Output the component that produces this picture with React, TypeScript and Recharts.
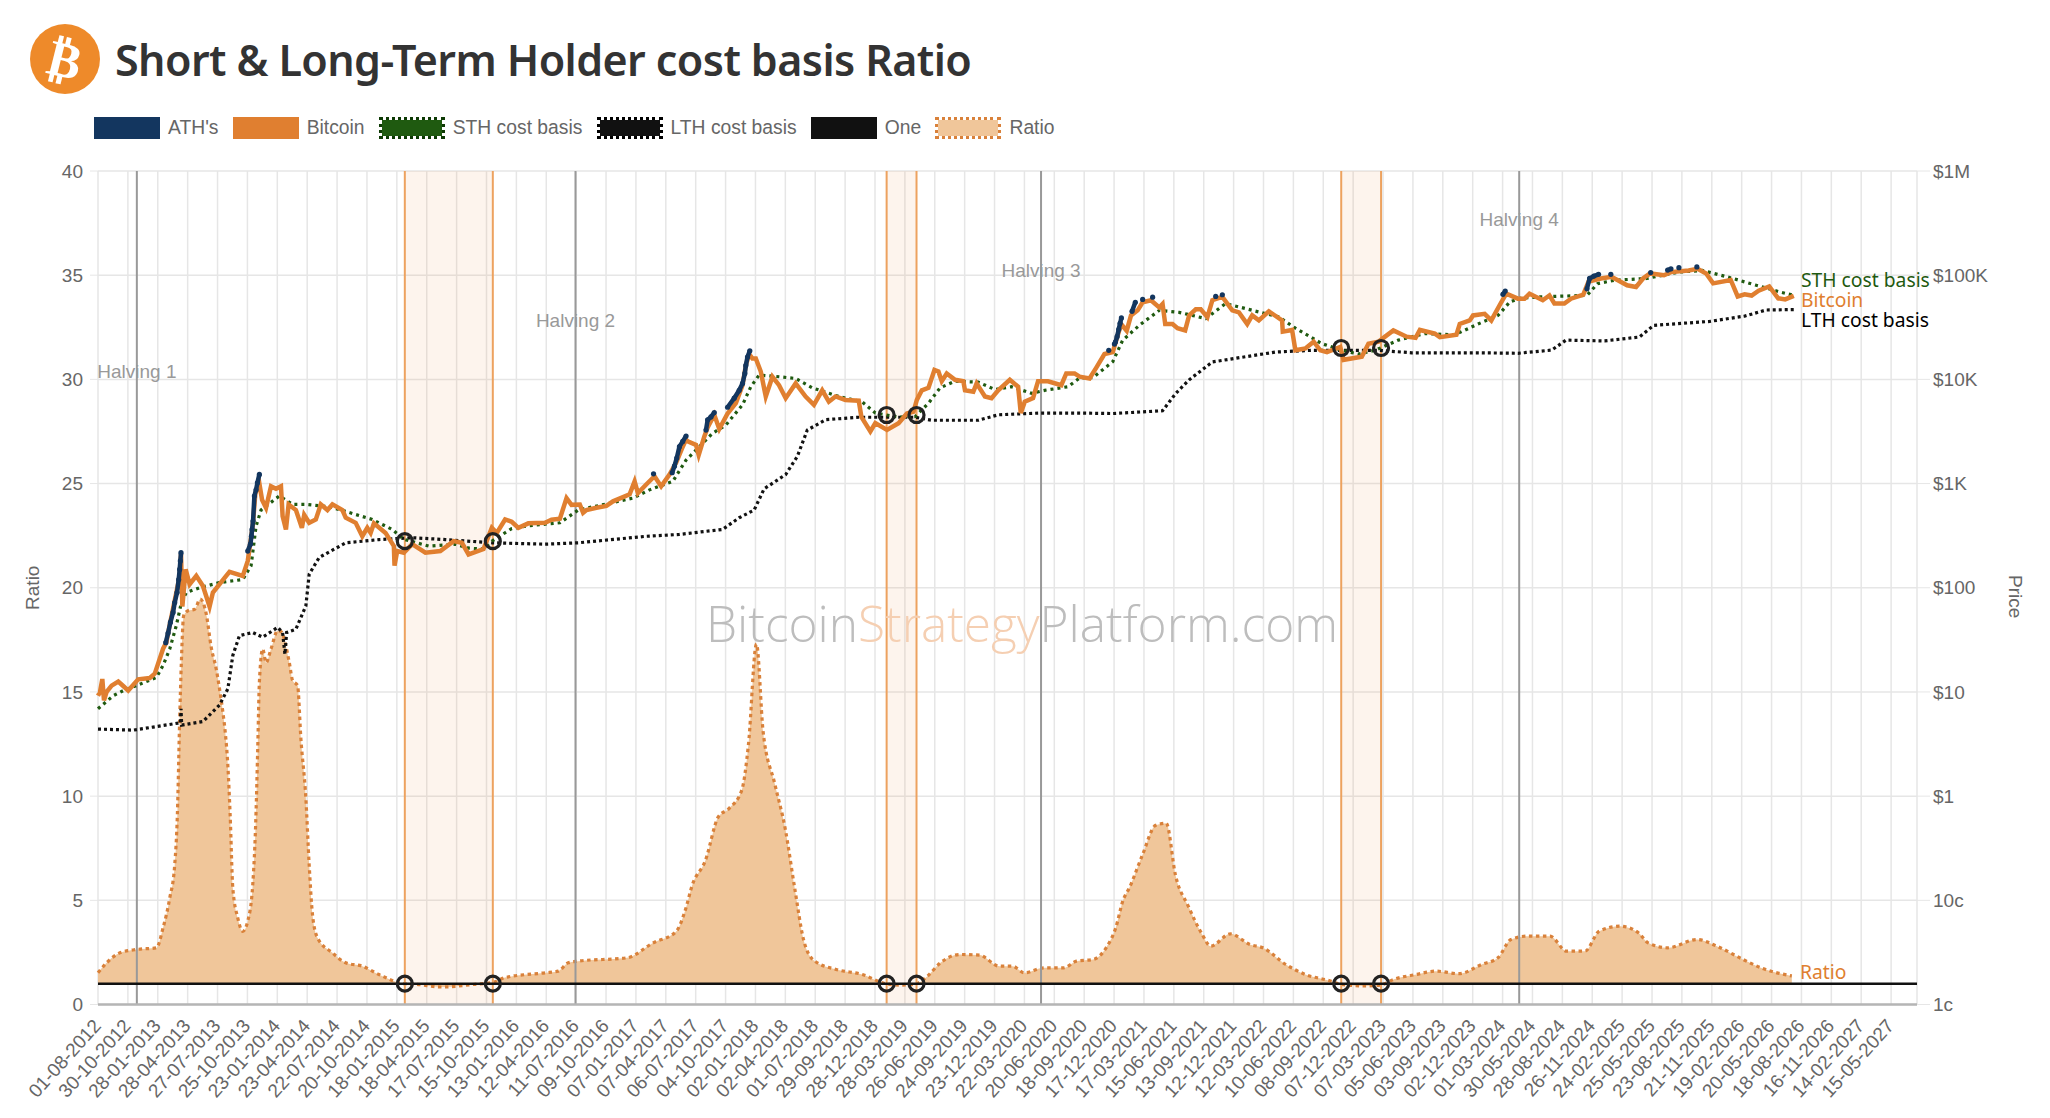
import {
  Area,
  CartesianGrid,
  ComposedChart,
  Line,
  ReferenceArea,
  ReferenceLine,
  XAxis,
  YAxis,
} from "recharts";

// x is days since 01-08-2012, prices in dollars
const xTickLabels = [
  "01-08-2012", "30-10-2012", "28-01-2013", "28-04-2013", "27-07-2013", "25-10-2013", "23-01-2014", "23-04-2014",
  "22-07-2014", "20-10-2014", "18-01-2015", "18-04-2015", "17-07-2015", "15-10-2015", "13-01-2016", "12-04-2016",
  "11-07-2016", "09-10-2016", "07-01-2017", "07-04-2017", "06-07-2017", "04-10-2017", "02-01-2018", "02-04-2018",
  "01-07-2018", "29-09-2018", "28-12-2018", "28-03-2019", "26-06-2019", "24-09-2019", "23-12-2019", "22-03-2020",
  "20-06-2020", "18-09-2020", "17-12-2020", "17-03-2021", "15-06-2021", "13-09-2021", "12-12-2021", "12-03-2022",
  "10-06-2022", "08-09-2022", "07-12-2022", "07-03-2023", "05-06-2023", "03-09-2023", "02-12-2023", "01-03-2024",
  "30-05-2024", "28-08-2024", "26-11-2024", "24-02-2025", "25-05-2025", "23-08-2025", "21-11-2025", "19-02-2026",
  "20-05-2026", "18-08-2026", "16-11-2026", "14-02-2027", "15-05-2027",
];
const xTicks = xTickLabels.map((_, i) => i * 90);
const ratioTicks = [0, 5, 10, 15, 20, 25, 30, 35, 40];
const priceTicks = [0.01, 0.1, 1, 10, 100, 1000, 10000, 100000, 1000000];
const priceTickLabels = ["1c", "10c", "$1", "$10", "$100", "$1K", "$10K", "$100K", "$1M"];

const halvingDays = [117, 1438, 2840, 4280];
const halvingNames = ["Halving 1", "Halving 2", "Halving 3", "Halving 4"];
const halvingLabelOffsets = [194, 143, 93, 42];
const bearBands = [[924, 1189], [2375, 2465], [3744, 3864]];
const crossPrices = [280, 280, 4550, 4550, 20000, 20000];

const bitcoin = [
  [0, 9.2], [6, 10], [13, 13.3], [18, 8.3], [26, 10], [41, 11.5], [61, 12.6], [76, 11.4], [91, 10.3], [121, 13.2],
  [156, 13.6], [171, 15], [196, 26], [206, 30], [216, 44], [236, 90], [246, 130], [250, 210], [254, 66], [264, 150],
  [276, 108], [296, 130], [316, 104], [336, 66], [346, 90], [386, 130], [396, 142], [436, 130], [451, 181], [466, 394],
  [474, 810], [486, 1000], [494, 700], [506, 585], [521, 940], [536, 890], [551, 940], [556, 486], [566, 363], [574, 631],
  [596, 557], [614, 376], [621, 500], [636, 420], [656, 452], [671, 631], [691, 557], [706, 631], [736, 557], [746, 470],
  [776, 420], [796, 312], [811, 376], [821, 336], [831, 416], [866, 336], [891, 251], [893, 163], [901, 225], [921, 217],
  [946, 262], [986, 217], [1031, 225], [1071, 280], [1096, 270], [1116, 209], [1161, 235], [1186, 376], [1201, 336],
  [1226, 452], [1246, 430], [1266, 376], [1296, 415], [1346, 420], [1366, 450], [1391, 460], [1411, 725], [1426, 625],
  [1451, 630], [1461, 525], [1471, 557], [1501, 585], [1531, 610], [1551, 675], [1601, 790], [1616, 1050], [1626, 810],
  [1651, 980], [1676, 1175], [1696, 940], [1721, 1220], [1741, 1580], [1761, 2260], [1771, 2640], [1776, 2540],
  [1801, 2350], [1809, 1880], [1826, 2830], [1836, 3460], [1856, 4570], [1871, 3340], [1896, 4700], [1921, 5900],
  [1941, 8800], [1951, 13600], [1961, 17500], [1971, 15850], [1981, 15850], [1996, 11900], [2011, 6850], [2031, 10600],
  [2051, 8800], [2071, 6600], [2101, 9150], [2131, 6850], [2156, 5700], [2181, 7850], [2201, 6100], [2221, 6850],
  [2251, 6350], [2291, 6250], [2299, 4360], [2326, 3160], [2341, 3800], [2376, 3270], [2411, 3800], [2436, 4700],
  [2456, 4900], [2466, 6350], [2481, 7850], [2501, 8300], [2519, 12300], [2531, 11900], [2541, 9600], [2556, 11400],
  [2581, 9900], [2606, 9600], [2611, 7850], [2636, 7600], [2646, 9150], [2671, 6850], [2691, 6600], [2711, 7850],
  [2746, 9900], [2771, 8500], [2779, 4750], [2791, 6100], [2816, 6600], [2831, 9600], [2861, 9600], [2901, 8800],
  [2916, 11400], [2941, 11400], [2956, 10600], [2986, 10200], [3006, 12900], [3031, 17500], [3056, 18300], [3081, 34000],
  [3098, 29300], [3111, 41100], [3131, 46000], [3146, 55000], [3171, 57500], [3196, 49000], [3206, 53000], [3214, 34000],
  [3236, 34000], [3251, 31000], [3274, 29500], [3286, 41100], [3306, 47000], [3321, 47000], [3341, 39600], [3356, 57500],
  [3386, 62000], [3416, 46000], [3436, 44000], [3461, 34000], [3476, 41100], [3496, 36800], [3526, 45000], [3566, 36800],
  [3568, 28700], [3596, 29800], [3606, 19000], [3636, 19800], [3661, 23000], [3681, 19000], [3701, 18300], [3741, 20500],
  [3751, 15400], [3806, 16500], [3826, 22000], [3856, 23000], [3876, 25700], [3901, 29500], [3941, 25700], [3968, 25000],
  [3981, 29800], [4026, 27500], [4041, 25400], [4091, 26800], [4101, 34000], [4131, 36800], [4141, 41100], [4176, 42600],
  [4196, 36800], [4221, 51500], [4241, 66500], [4276, 59500], [4296, 59500], [4311, 66500], [4351, 57500], [4371, 64000],
  [4386, 53500], [4416, 53500], [4436, 59500], [4473, 65000], [4489, 87000], [4526, 93000], [4558, 96500], [4605, 80000],
  [4632, 77000], [4653, 93000], [4674, 104000], [4716, 100000], [4737, 107000], [4790, 111000], [4817, 115000],
  [4843, 104000], [4864, 83500], [4917, 90000], [4938, 62500], [4959, 65500], [4980, 63800], [5001, 71000], [5033, 78000],
  [5060, 60000], [5081, 58500], [5107, 63200],
];

// null closes a run of all time highs
const athRuns = [
  [204, 29.7], [211, 36.7], [218, 46.5], [226, 58], [231, 72], [238, 90], [243, 120], [246, 150], [248, 181], [250, 217], [251, null],
  [451, 225], [459, 262], [462, 312], [464, 363], [467, 437], [471, 760], [476, 870], [480, 1015], [486, 1225], [487, null],
  [1673, 1240], [1674, null],
  [1729, 1270], [1736, 1470], [1743, 1760], [1751, 2260], [1761, 2540], [1771, 2860], [1772, null],
  [1831, 3260], [1836, 4090], [1846, 4360], [1856, 4810], [1857, null],
  [1896, 5400], [1916, 6600], [1931, 7850], [1941, 9150], [1948, 11400], [1951, 13600], [1956, 16400], [1963, 18800], [1964, null],
  [3044, 19000], [3045, null],
  [3061, 21800], [3064, 22800], [3069, 25700], [3074, 30200], [3078, 34500], [3082, 38900], [3083, null],
  [3114, 45000], [3124, 55000], [3125, null],
  [3146, 58500], [3147, null],
  [3176, 61500], [3177, null],
  [3366, 62500], [3367, null],
  [3386, 64900], [3387, null],
  [4231, 65500], [4238, 70500], [4239, null],
  [4484, 74000], [4492, 93000], [4505, 98000], [4519, 102000], [4520, null],
  [4556, 102000], [4557, null],
  [4676, 106000], [4677, null],
  [4727, 112000], [4737, 115000], [4738, null],
  [4761, 118000], [4762, null],
  [4815, 120000],
];

const sthCostBasis = [
  [0, 6.9], [46, 9.2], [76, 10.3], [116, 11.5], [176, 13.8], [196, 18], [216, 25.8], [236, 43.5], [251, 72], [266, 90],
  [306, 100], [366, 112], [436, 120], [461, 163], [476, 390], [491, 557], [546, 760], [586, 631], [626, 631], [696, 600],
  [746, 540], [826, 452], [886, 363], [921, 292], [996, 251], [1076, 262], [1116, 240], [1161, 235], [1186, 280],
  [1246, 370], [1296, 394], [1391, 420], [1446, 557], [1611, 725], [1661, 870], [1731, 1050], [1771, 1680], [1811, 2260],
  [1851, 3040], [1891, 3650], [1941, 5700], [1966, 8500], [1991, 11000], [2051, 10600], [2101, 10200], [2151, 8300],
  [2231, 6850], [2301, 6100], [2341, 4750], [2411, 4350], [2461, 4400], [2501, 5900], [2536, 8300], [2581, 9600],
  [2651, 9400], [2701, 8000], [2751, 8500], [2811, 7350], [2851, 7850], [2921, 8500], [2956, 10300], [2996, 10400],
  [3056, 14800], [3086, 23800], [3136, 33000], [3196, 46000], [3256, 44000], [3336, 38300], [3396, 53500], [3476, 46000],
  [3556, 39800], [3606, 31000], [3686, 22000], [3746, 19000], [3796, 17500], [3846, 19000], [3916, 23800], [3996, 27500],
  [4086, 26800], [4156, 34000], [4216, 41000], [4252, 55500], [4283, 60000], [4347, 62000], [4484, 64000], [4516, 83000],
  [4568, 89500], [4664, 93000], [4759, 107000], [4832, 111000], [4906, 96500], [4991, 80500], [5065, 69000], [5107, 64000],
];

const lthCostBasis = [
  [0, 4.4], [106, 4.3], [166, 4.6], [246, 5.05], [248, 5], [250, 6.9], [252, 4.8], [316, 5.2], [366, 7.5], [391, 10.7],
  [406, 22.4], [426, 34.7], [466, 37.2], [496, 33.5], [541, 41.7], [556, 37], [563, 23], [568, 37.2], [596, 40], [626, 67],
  [636, 135], [666, 195], [746, 270], [846, 290], [946, 302], [1046, 290], [1186, 270], [1346, 262], [1446, 270], [1651, 312],
  [1751, 325], [1881, 363], [1931, 470], [1976, 557], [2006, 890], [2071, 1220], [2106, 1820], [2136, 3260], [2191, 4100],
  [2291, 4330], [2461, 4330], [2511, 4050], [2651, 4050], [2711, 4570], [2836, 4750], [2951, 4750], [3056, 4700], [3206, 5000],
  [3246, 7350], [3286, 9900], [3356, 14700], [3456, 16500], [3546, 18300], [3656, 19000], [3856, 19000], [3956, 18000],
  [4156, 18000], [4276, 17800], [4378, 19100], [4421, 23800], [4537, 23400], [4642, 25500], [4685, 33000], [4854, 36000],
  [4959, 40500], [5023, 46300], [5107, 46800],
];

const ratio = [
  [0, 1.52], [26, 2], [66, 2.48], [116, 2.64], [176, 2.72], [196, 3.68], [216, 5.1], [231, 6.7], [239, 9.1], [246, 13.7],
  [251, 16.4], [258, 18.66], [271, 18.9], [291, 18.97], [308, 19.45], [326, 18.74], [341, 17.14], [356, 16.1], [366, 15.15],
  [376, 14.04], [383, 13.1], [391, 11.48], [398, 9.09], [406, 5.59], [421, 4.15], [436, 3.51], [451, 4], [466, 5.75], [476, 9.25],
  [481, 12.28], [486, 15.47], [496, 17.06], [506, 16.4], [521, 17.06], [541, 17.94], [551, 17.9], [576, 16.42], [586, 15.55],
  [601, 15.31], [611, 12.76], [626, 9.89], [636, 6.7], [646, 4.31], [661, 3.2], [706, 2.48], [746, 2], [796, 1.84], [846, 1.44],
  [921, 1], [956, 0.97], [1036, 0.84], [1136, 0.97], [1186, 1.05], [1226, 1.29], [1346, 1.52], [1386, 1.6], [1416, 2], [1446, 2.08],
  [1593, 2.24], [1672, 2.96], [1741, 3.5], [1770, 4.6], [1789, 5.7], [1829, 6.9], [1868, 9], [1900, 9.4], [1939, 10.3], [1959, 12.5],
  [1983, 17.3], [2003, 13.1], [2038, 10.6], [2070, 8.4], [2098, 5.6], [2125, 3.1], [2157, 2.1], [2223, 1.68], [2302, 1.44], [2372, 1],
  [2419, 0.93], [2465, 1], [2498, 1.36], [2537, 2], [2596, 2.4], [2655, 2.37], [2714, 1.84], [2754, 1.84], [2790, 1.52], [2849, 1.76],
  [2908, 1.76], [2947, 2.08], [2997, 2.16], [3036, 2.72], [3065, 3.68], [3087, 5], [3106, 5.6], [3146, 7.2], [3185, 8.6], [3217, 8.7],
  [3245, 6.2], [3284, 4.7], [3324, 3.4], [3351, 2.8], [3410, 3.39], [3469, 2.88], [3508, 2.72], [3577, 1.92], [3636, 1.44], [3714, 1.12],
  [3742, 0.97], [3813, 0.89], [3862, 0.93], [3901, 1.2], [3970, 1.44], [4029, 1.6], [4098, 1.48], [4167, 1.92], [4216, 2.24], [4255, 3.12],
  [4305, 3.28], [4373, 3.28], [4423, 2.56], [4478, 2.56], [4521, 3.52], [4584, 3.76], [4639, 3.44], [4668, 2.96], [4727, 2.72], [4816, 3.12],
  [4875, 2.8], [4954, 2.16], [5013, 1.73], [5101, 1.37],
];

const oneLine = [[0, 1], [5478, 1]];
const xEnd = 5478;

const legendNames = ["ATH's", "Bitcoin", "STH cost basis", "LTH cost basis", "One", "Ratio"];
const legendSwatches = [
  { background: "#13365f", border: "none" },
  { background: "#e07f30", border: "none" },
  { background: "#1f5a10", border: "3px dotted #0d3a04", backgroundClip: "padding-box" },
  { background: "#111", border: "3px dotted #000", backgroundClip: "padding-box" },
  { background: "#111", border: "none" },
  { background: "#f0c69a", border: "3px dotted #d9813a", backgroundClip: "padding-box" },
];

const toRows = (points: (number | null)[][]) => points.map(([day, value]) => ({ day, value }));

const FONT = "'Liberation Sans', Arial, sans-serif";
const GREY = "#666";
const ORANGE = "#e07f30";

const endLabel = { position: "absolute", fontFamily: "'Noto Sans'", fontSize: 19.3, lineHeight: "19px", whiteSpace: "nowrap" } as const;

export default function App() {
  const crossRows = bearBands.flat().map((day, i) => ({ day, price: crossPrices[i], one: 1 }));

  return (
    <div style={{ position: "absolute", left: 0, top: 0, width: 2050, height: 1118, background: "#fff", overflow: "hidden", fontFamily: FONT }}>
      {/* titel */}
      <svg width={72} height={72} style={{ position: "absolute", left: 29, top: 23 }}>
        <circle cx={36} cy={36} r={35} fill="#ee8a2a" />
        <text x={36} y={54} textAnchor="middle" fontSize={50} fontWeight={700} fill="#fff" fontFamily="'DejaVu Sans'" transform="rotate(14 36 36)">₿</text>
      </svg>
      <div style={{ position: "absolute", left: 115, top: 30, fontFamily: "'Noto Sans'", fontWeight: 600, fontSize: 43, letterSpacing: -0.58, color: "#333", whiteSpace: "nowrap" }}>
        Short &amp; Long-Term Holder cost basis Ratio
      </div>

      {/* legend */}
      <div style={{ position: "absolute", left: 94, top: 117, display: "flex", alignItems: "center", height: 22 }}>
        {legendNames.map((name, i) => (
          <div key={name} style={{ display: "flex", alignItems: "center", marginRight: 14.2 }}>
            <span style={{ display: "inline-block", boxSizing: "border-box", width: 66, height: 22, ...legendSwatches[i] }} />
            <span style={{ marginLeft: 8, fontSize: 19.3, color: GREY, whiteSpace: "nowrap" }}>{name}</span>
          </div>
        ))}
      </div>

      <ComposedChart
        width={2050}
        height={1118}
        margin={{ top: 171, right: 0, bottom: 0, left: 0 }}
        style={{ position: "absolute", left: 0, top: 0 }}
      >
        <CartesianGrid yAxisId="ratio" stroke="#e6e6e6" strokeWidth={1.5} />
        <XAxis
          dataKey="day"
          type="number"
          domain={[0, xEnd]}
          ticks={xTicks}
          interval={0}
          height={113.5}
          angle={-48}
          textAnchor="end"
          tickSize={0}
          tickMargin={13}
          tickFormatter={(d: number) => xTickLabels[d / 90]}
          tick={{ fill: GREY, fontSize: 19, fontFamily: FONT, dx: -6 }}
          axisLine={{ stroke: "#b5b5b5", strokeWidth: 2.5 }}
          tickLine={false}
        />
        <YAxis
          yAxisId="ratio"
          domain={[0, 40]}
          ticks={ratioTicks}
          width={98}
          tickSize={8}
          tickMargin={7}
          axisLine={false}
          tickLine={{ stroke: "#e6e6e6" }}
          tick={{ fill: GREY, fontSize: 19, fontFamily: FONT }}
          label={{ value: "Ratio", angle: -90, position: "center", dx: -17, fill: GREY, fontSize: 19, fontFamily: FONT }}
        />
        <YAxis
          yAxisId="price"
          orientation="right"
          scale="log"
          domain={[0.01, 1000000]}
          ticks={priceTicks}
          width={133}
          tickSize={13}
          tickMargin={3}
          axisLine={false}
          tickLine={{ stroke: "#e6e6e6" }}
          tickFormatter={(p: number) => priceTickLabels[priceTicks.indexOf(p)]}
          tick={{ fill: GREY, fontSize: 19, fontFamily: FONT }}
          label={{ value: "Price", angle: 90, position: "center", dx: 32, dy: 9, fill: GREY, fontSize: 19, fontFamily: FONT }}
        />

        {bearBands.map(([from, to]) => (
          <ReferenceArea key={from} yAxisId="ratio" x1={from} x2={to} fill="#ed9650" fillOpacity={0.1} stroke="none" />
        ))}
        {bearBands.flat().map((day) => (
          <ReferenceLine key={day} yAxisId="ratio" x={day} stroke="#eda25f" strokeWidth={2} />
        ))}
        {halvingDays.map((day, i) => (
          <ReferenceLine
            key={day}
            yAxisId="ratio"
            x={day}
            stroke="#999"
            strokeWidth={2}
            label={{ value: halvingNames[i], position: "insideTop", offset: halvingLabelOffsets[i], fill: "#999", fontSize: 19, fontFamily: FONT }}
          />
        ))}

        <Area
          yAxisId="ratio"
          data={toRows(ratio)}
          dataKey="value"
          type="monotone"
          baseValue={1}
          stroke="#d9813a"
          strokeWidth={3.2}
          strokeDasharray="3.5 3.5"
          fill="#f0c69a"
          fillOpacity={1}
          dot={false}
          isAnimationActive={false}
        />
        <Line yAxisId="ratio" data={toRows(oneLine)} dataKey="value" stroke="#111" strokeWidth={2.5} dot={false} isAnimationActive={false} />
        <Line yAxisId="price" data={toRows(lthCostBasis)} dataKey="value" stroke="#111" strokeWidth={3.2} strokeDasharray="3 3" dot={false} isAnimationActive={false} />
        <Line yAxisId="price" data={toRows(sthCostBasis)} dataKey="value" stroke="#1f5a10" strokeWidth={3.2} strokeDasharray="3 4" dot={false} isAnimationActive={false} />
        <Line yAxisId="price" data={toRows(bitcoin)} dataKey="value" stroke={ORANGE} strokeWidth={4.5} dot={false} isAnimationActive={false} />
        <Line yAxisId="price" data={toRows(athRuns)} dataKey="value" stroke="#13365f" strokeWidth={4.5} dot={{ r: 2.6, fill: "#13365f", stroke: "none" }} isAnimationActive={false} />
        <Line yAxisId="ratio" data={crossRows} dataKey="one" stroke="none" dot={{ r: 7.5, fill: "none", stroke: "#222", strokeWidth: 3.2 }} isAnimationActive={false} />
        <Line yAxisId="price" data={crossRows} dataKey="price" stroke="none" dot={{ r: 7.5, fill: "none", stroke: "#222", strokeWidth: 3.2 }} isAnimationActive={false} />
      </ComposedChart>

      {/* watermark */}
      <div style={{ position: "absolute", left: 706, top: 589, fontFamily: "'Open Sans'", fontWeight: 300, fontSize: 49.6, color: "#bdbdbd", whiteSpace: "nowrap" }}>
        Bitcoin<span style={{ color: "#f5cfb2" }}>Strategy</span>Platform.com
      </div>

      {/* end labels */}
      <div style={{ ...endLabel, left: 1801, top: 270, color: "#1f5a10" }}>STH cost basis</div>
      <div style={{ ...endLabel, left: 1801, top: 290, color: ORANGE }}>Bitcoin</div>
      <div style={{ ...endLabel, left: 1801, top: 310, color: "#000" }}>LTH cost basis</div>
      <div style={{ ...endLabel, left: 1800, top: 962, color: ORANGE }}>Ratio</div>
    </div>
  );
}
